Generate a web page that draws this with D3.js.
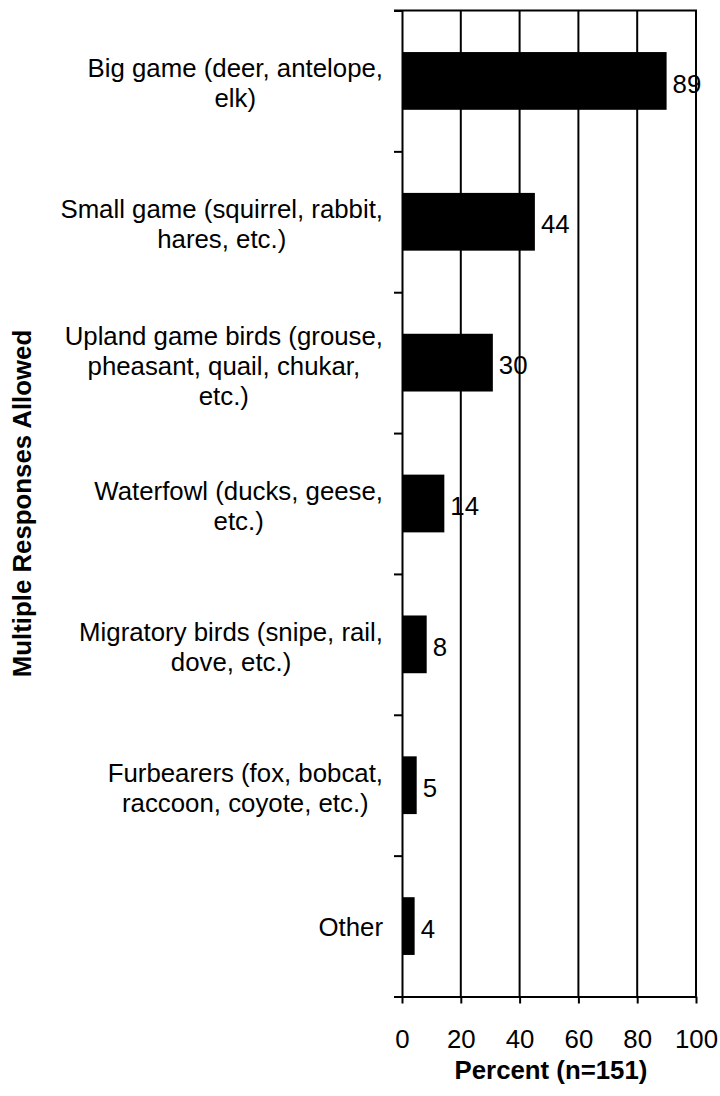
<!DOCTYPE html>
<html lang="en">
<head>
<meta charset="UTF-8" />
<title>Hunting types</title>
<script src="https://d3js.org/d3.v7.min.js"></script>
<style>
  body { margin: 0; background: #fff; }
  text { font-family: "Liberation Sans", Arial, sans-serif; fill: #000; }
</style>
</head>
<body>
<div id="chart"></div>
<script>
// category labels, wrapped the way the picture shows them
var categories = [
    ['Big game (deer, antelope,', 'elk)'],
    ['Small game (squirrel, rabbit,', 'hares, etc.)'],
    ['Upland game birds (grouse,', 'pheasant, quail, chukar,', 'etc.)'],
    ['Waterfowl (ducks, geese,', 'etc.)'],
    ['Migratory birds (snipe, rail,', 'dove, etc.)'],
    ['Furbearers (fox, bobcat,', 'raccoon, coyote, etc.)'],
    ['Other']
];
var values = [90.0, 45.2, 30.9, 14.4, 8.4, 5.0, 4.3];
var valueLabels = ['89', '44', '30', '14', '8', '5', '4'];
var xTicks = [0, 20, 40, 60, 80, 100];

(function () {
    var width = 720, height = 1096;
    var plotLeft = 402, plotRight = 696, plotTop = 10.5, plotBottom = 996.5;
    var fs = 25.8;

    var svg = d3.select('#chart')
        .append('svg')
        .attr('width', width)
        .attr('height', height);

    var x = d3.scaleLinear().domain([0, 100]).range([plotLeft, plotRight]);
    var y = d3.scaleBand()
        .domain(d3.range(categories.length))
        .range([plotTop, plotBottom])
        .paddingInner(0.59)
        .paddingOuter(0.295);
    // band edges for the category tick marks
    var yEdge = d3.scaleLinear().domain([0, categories.length]).range([plotTop, plotBottom]);

    // vertical gridlines
    svg.append('g')
        .selectAll('line')
        .data(xTicks.slice(1))
        .enter()
        .append('line')
        .attr('x1', d => x(d))
        .attr('x2', d => x(d))
        .attr('y1', plotTop)
        .attr('y2', plotBottom)
        .attr('stroke', '#000')
        .attr('stroke-width', 2);

    // top border
    svg.append('line')
        .attr('x1', x(0) - 8)
        .attr('x2', x(100) + 1)
        .attr('y1', plotTop)
        .attr('y2', plotTop)
        .attr('stroke', '#000')
        .attr('stroke-width', 2);

    // bars
    svg.append('g')
        .selectAll('rect')
        .data(values)
        .enter()
        .append('rect')
        .attr('x', x(0))
        .attr('y', (d, i) => y(i))
        .attr('width', d => x(d) - x(0))
        .attr('height', y.bandwidth())
        .attr('fill', '#000');

    // value labels
    svg.append('g')
        .selectAll('text')
        .data(values)
        .enter()
        .append('text')
        .attr('x', d => x(d) + 6)
        .attr('y', (d, i) => y(i) + y.bandwidth() / 2)
        .attr('dy', '0.45em')
        .attr('font-size', fs + 'px')
        .text((d, i) => valueLabels[i]);

    // y axis (ticks between categories)
    var yAxis = svg.append('g')
        .attr('transform', 'translate(' + plotLeft + ',0)')
        .call(d3.axisLeft(yEdge)
            .tickValues(d3.range(categories.length + 1))
            .tickFormat('')
            .tickSizeInner(8)
            .tickSizeOuter(0));
    yAxis.selectAll('path, line').attr('stroke', '#000').attr('stroke-width', 2);

    // x axis
    var xAxis = svg.append('g')
        .attr('transform', 'translate(0,' + plotBottom + ')')
        .call(d3.axisBottom(x)
            .tickValues(xTicks)
            .tickSizeInner(7)
            .tickSizeOuter(0)
            .tickPadding(26));
    xAxis.selectAll('path, line').attr('stroke', '#000').attr('stroke-width', 2);
    xAxis.selectAll('text')
        .attr('font-size', fs + 'px')
        .attr('font-family', '"Liberation Sans", Arial, sans-serif')
        .attr('fill', '#000');

    // category labels, centred lines, block right edge near the axis
    var lineH = 30;
    var labelRight = plotLeft - 19;
    categories.forEach(function (lines, i) {
        var cy = y(i) + y.bandwidth() / 2;
        var t = svg.append('text')
            .attr('font-size', fs + 'px')
            .attr('text-anchor', 'middle');
        var firstBase = cy + 10.4 - (lines.length - 1) * 14;
        var spans = lines.map(function (ln, k) {
            return t.append('tspan')
                .attr('y', firstBase + k * lineH)
                .text(ln);
        });
        var maxW = d3.max(spans, s => s.node().getComputedTextLength());
        spans.forEach(s => s.attr('x', labelRight - maxW / 2));
    });

    // axis titles
    svg.append('text')
        .attr('transform', 'translate(31,' + (plotTop + plotBottom) / 2 + ') rotate(-90)')
        .attr('text-anchor', 'middle')
        .attr('font-size', fs + 'px')
        .attr('font-weight', 'bold')
        .text('Multiple Responses Allowed');

    svg.append('text')
        .attr('x', 551)
        .attr('y', 1079)
        .attr('text-anchor', 'middle')
        .attr('font-size', fs + 'px')
        .attr('font-weight', 'bold')
        .text('Percent (n=151)');
})();
</script>
</body>
</html>
